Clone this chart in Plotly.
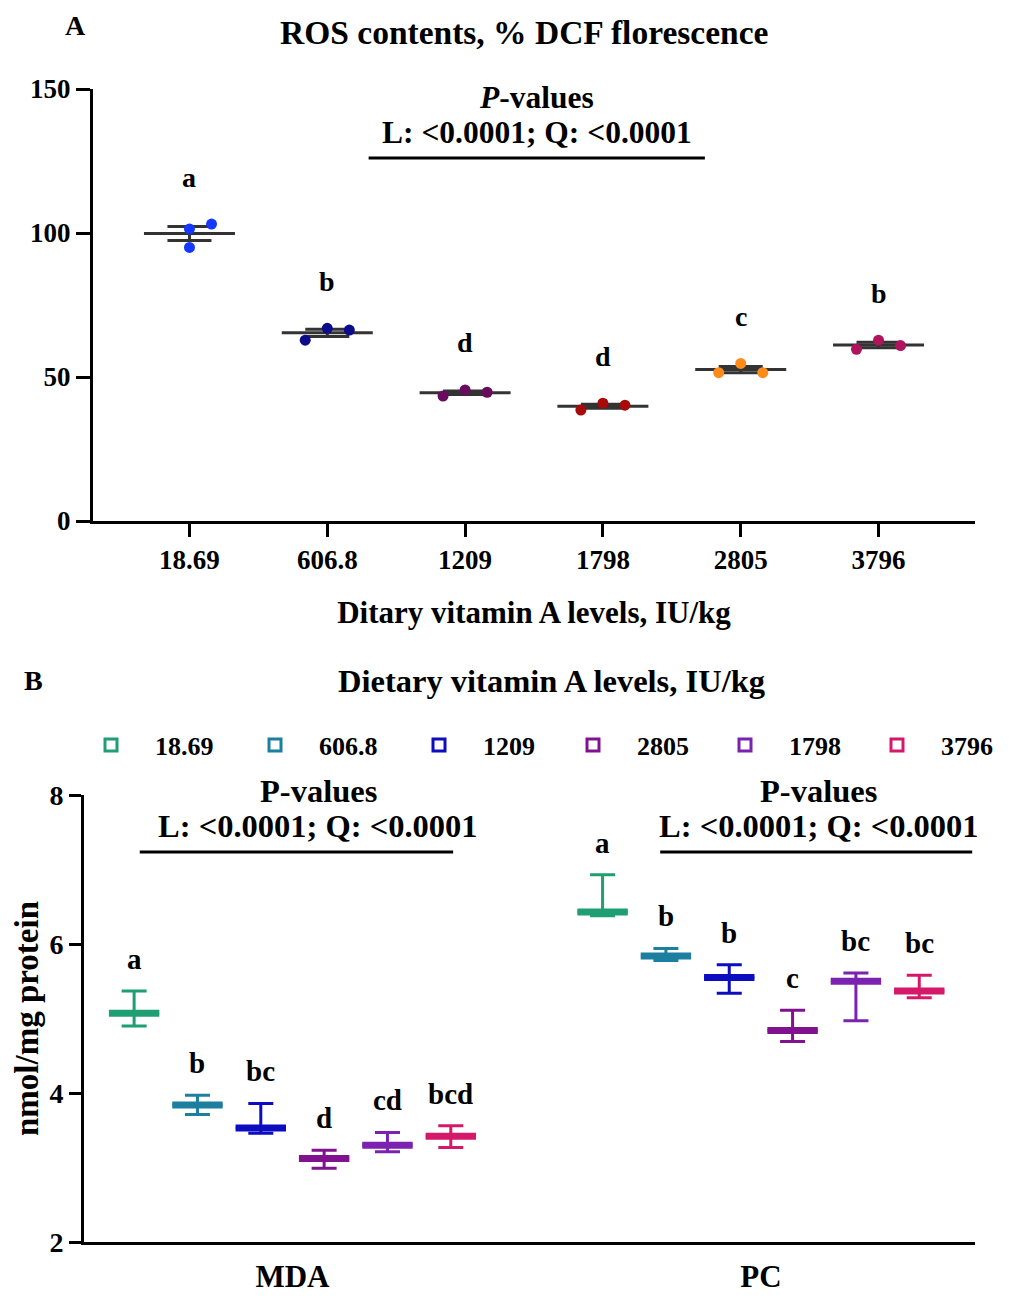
import numpy as np
import plotly.graph_objects as go

# ---------------- Panel A data: ROS contents (% DCF florescence) ----------------
ros_levels = ["18.69", "606.8", "1209", "1798", "2805", "3796"]
ros_values = [
    [101.4, 103.1, 95.0],
    [62.8, 66.9, 66.3],
    [43.4, 45.5, 44.7],
    [38.5, 40.9, 40.2],
    [51.5, 54.7, 51.5],
    [59.6, 62.8, 60.9],
]
ros_letters = ["a", "b", "d", "d", "c", "b"]

# ---------------- Panel B data: MDA and PC (nmol/mg protein) ----------------
b_levels = ["18.69", "606.8", "1209", "2805", "1798", "3796"]
b_params = ["MDA", "PC"]
mda_low = [4.90, 3.71, 3.46, 2.99, 3.21, 3.27]
mda_mid = [5.07, 3.84, 3.53, 3.12, 3.30, 3.42]
mda_high = [5.37, 3.97, 3.86, 3.23, 3.47, 3.56]
pc_low = [6.38, 5.78, 5.34, 4.69, 4.97, 5.28]
pc_mid = [6.43, 5.84, 5.55, 4.84, 5.50, 5.37]
pc_high = [6.93, 5.94, 5.72, 5.11, 5.61, 5.58]
mda_letters = ["a", "b", "bc", "d", "cd", "bcd"]
pc_letters = ["a", "b", "b", "c", "bc", "bc"]

# ---------------- styles ----------------
FONT = "Liberation Serif, Times New Roman, serif"
ros_colors = ["#1438ff", "#0c0c8a", "#6a0c5e", "#a80a0a", "#ff8c1a", "#b0145e"]
b_colors = ["#1f9e72", "#1d7fa0", "#0c0cc0", "#80128f", "#7b22b0", "#d6186a"]
GRAY = "#333333"
JITTER = [[0, 1, 0], [-1, 0, 1], [-1, 0, 1], [-1, 0, 1], [-1, 0, 1], [-1, 0, 1]]
JIT = 0.16
SLOT = 0.1352
BOXW = 0.1068
OFF = 8                      # page body margin
W, H = 1011 - 2 * OFF, 1302 - 2 * OFF


def px(xp):
    return (xp - OFF) / W


def py(yp):
    return 1 - (yp - OFF) / H


def bold(size, color="black"):
    return dict(family=FONT, size=size, color=color, weight="bold")


fig = go.Figure()

# ---- Panel A traces ----
for i, vals in enumerate(ros_values):
    mean = float(np.mean(vals))
    sem = float(np.std(vals, ddof=1) / np.sqrt(len(vals)))
    fig.add_trace(go.Scatter(
        x=[i], y=[mean], mode="markers",
        marker=dict(symbol="line-ew", size=65, color=GRAY, line=dict(width=3, color=GRAY)),
        error_y=dict(type="data", array=[sem], width=22, thickness=3, color=GRAY),
        showlegend=False, hoverinfo="skip", xaxis="x", yaxis="y"))
    fig.add_trace(go.Scatter(
        x=[i + j * JIT for j in JITTER[i]], y=vals, mode="markers",
        marker=dict(size=11, color=ros_colors[i]),
        showlegend=False, name=ros_levels[i], xaxis="x", yaxis="y"))

# ---- Panel B traces ----
for i, lvl in enumerate(b_levels):
    xs = [c + (i - 2.5) * SLOT for c in range(len(b_params))]
    low = [mda_low[i], pc_low[i]]
    mid = [mda_mid[i], pc_mid[i]]
    high = [mda_high[i], pc_high[i]]
    fig.add_trace(go.Box(
        x=xs, q1=mid, median=mid, q3=mid, lowerfence=low, upperfence=high,
        width=BOXW, whiskerwidth=0.5, boxpoints=False,
        line=dict(color=b_colors[i], width=3), fillcolor="white",
        name=lvl, xaxis="x2", yaxis="y2",
        legend="legend" if i < 3 else "legend2"))
    fig.add_trace(go.Scatter(
        x=xs, y=mid, mode="markers",
        marker=dict(symbol="line-ew", size=36, color=b_colors[i],
                    line=dict(width=7, color=b_colors[i])),
        showlegend=False, hoverinfo="skip", xaxis="x2", yaxis="y2"))

C = dict(showarrow=False, xanchor="center", yanchor="middle")
annotations = []
# panel labels and titles
annotations.append(dict(text="A", x=px(75), y=py(25), xref="paper", yref="paper",
                        font=bold(28), **C))
annotations.append(dict(text="ROS contents, % DCF florescence", x=px(524), y=py(32),
                        xref="paper", yref="paper", font=bold(33.5), **C))
annotations.append(dict(text="B", x=px(33), y=py(680), xref="paper", yref="paper",
                        font=bold(28), **C))
annotations.append(dict(text="Dietary vitamin A levels, IU/kg", x=px(551), y=py(681),
                        xref="paper", yref="paper", font=bold(32.5), **C))

# letters panel A
for i, vals in enumerate(ros_values):
    annotations.append(dict(text=ros_letters[i], x=i, y=max(vals), xref="x", yref="y",
                            yshift=47, font=bold(28), **C))
# letters panel B
for i in range(len(b_levels)):
    for c, (hi, let) in enumerate([(mda_high[i], mda_letters[i]), (pc_high[i], pc_letters[i])]):
        annotations.append(dict(text=let, x=c + (i - 2.5) * SLOT, y=hi, xref="x2", yref="y2",
                                yshift=32, font=bold(29), **C))

# P-value annotations and lines
shapes = []
A_LINE = (1.30, 3.74, 126)
shapes.append(dict(type="line", xref="x", yref="y", x0=A_LINE[0], x1=A_LINE[1],
                   y0=A_LINE[2], y1=A_LINE[2], line=dict(color="black", width=3)))
ax_c = (A_LINE[0] + A_LINE[1]) / 2
annotations.append(dict(text="<i>P</i>-values", x=ax_c, y=A_LINE[2], xref="x", yref="y",
                        yshift=61, font=bold(31.5), **C))
annotations.append(dict(text="L: <0.0001; Q: <0.0001", x=ax_c, y=A_LINE[2], xref="x", yref="y",
                        yshift=26, font=bold(31.5), **C))

B_LINES = [(-0.326, 0.343, 7.235, 0.0555), (0.785, 1.451, 7.235, 1.123)]
for x0, x1, yv, xt in B_LINES:
    shapes.append(dict(type="line", xref="x2", yref="y2", x0=x0, x1=x1, y0=yv, y1=yv,
                       line=dict(color="black", width=3)))
    annotations.append(dict(text="P-values", x=xt, y=yv, xref="x2", yref="y2",
                            yshift=61, font=bold(32.5), **C))
    annotations.append(dict(text="L: <0.0001; Q: <0.0001", x=xt, y=yv, xref="x2", yref="y2",
                            yshift=26, font=bold(32.5), **C))

axis_common = dict(showline=True, linewidth=3, linecolor="black", showgrid=False,
                   zeroline=False, automargin=False, tickcolor="black", tickwidth=3)
legend_common = dict(orientation="h", y=py(745), xanchor="left", yanchor="middle",
                     font=bold(26), itemwidth=78, entrywidthmode="pixels",
                     bgcolor="rgba(0,0,0,0)", traceorder="normal")

fig.update_layout(
    width=W, height=H,
    margin=dict(l=0, r=0, t=0, b=0, autoexpand=False),
    paper_bgcolor="white", plot_bgcolor="white",
    boxmode="overlay",
    font=dict(family=FONT, color="black"),
    xaxis=dict(domain=[px(93), px(975)], anchor="y", range=[-0.7, 5.7],
               tickvals=list(range(len(ros_levels))), ticktext=ros_levels,
               ticks="outside", ticklen=13, tickfont=bold(27),
               title=dict(text="Ditary vitamin A levels, IU/kg", font=bold(31), standoff=27),
               **axis_common),
    yaxis=dict(domain=[py(521), py(89)], anchor="x", range=[0, 150],
               tickvals=[0, 50, 100, 150], ticks="outside", ticklen=14, tickfont=bold(27),
               **axis_common),
    xaxis2=dict(domain=[px(84), px(975)], anchor="y2", range=[-0.445, 1.457],
                tickvals=list(range(len(b_params))), ticktext=b_params, ticks="",
                tickfont=bold(31), ticklabelstandoff=5, **axis_common),
    yaxis2=dict(domain=[py(1242), py(795)], anchor="x2", range=[2, 8],
                tickvals=[2, 4, 6, 8], ticks="outside", ticklen=12, tickfont=bold(28),
                title=dict(text="nmol/mg protein", font=bold(33), standoff=1),
                **axis_common),
    legend=dict(x=px(67), entrywidth=71, **legend_common),
    legend2=dict(x=px(549), entrywidth=59, **legend_common),
    annotations=annotations,
    shapes=shapes,
)

fig.write_html("out.html")
